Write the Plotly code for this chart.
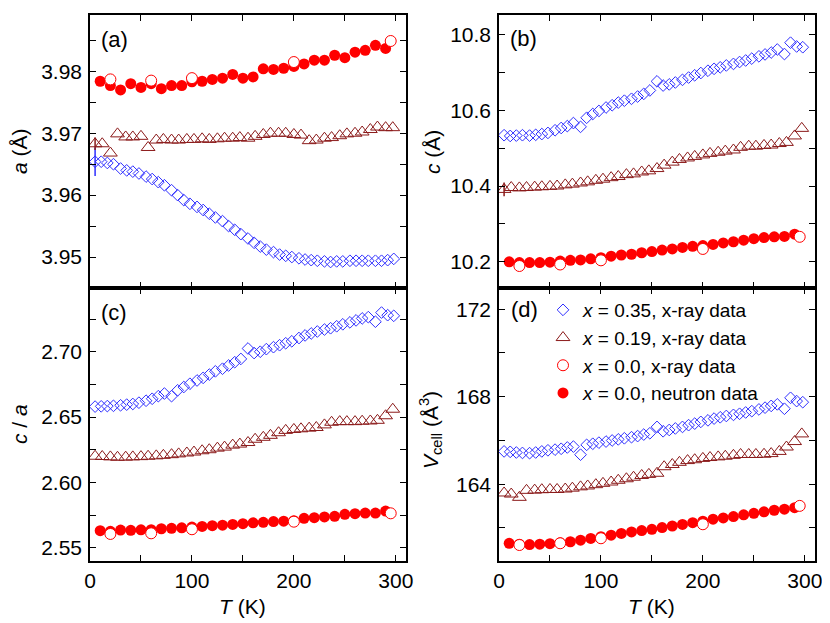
import plotly.graph_objects as go
from plotly.subplots import make_subplots

# ==========================
# DATA
# ==========================

# x = 0.35, x-ray (open diamonds)
T_035 = [5, 11, 17, 23, 30, 36, 42, 48, 55, 61, 67, 73, 80, 86, 92, 98,
         105, 111, 117, 123, 130, 136, 142, 148, 155, 161, 167, 173, 180, 186, 192, 198,
         205, 211, 217, 223, 230, 236, 242, 248, 255, 261, 267, 273, 280, 286, 292, 298]
a_035 = [3.9654, 3.9654, 3.9652, 3.9650, 3.9643, 3.9640, 3.9638, 3.9635, 3.9630, 3.9626, 3.9621, 3.9616,
         3.9608, 3.9600, 3.9592, 3.9586, 3.9581, 3.9576, 3.9570, 3.9564, 3.9558, 3.9550, 3.9544, 3.9537,
         3.9530, 3.9523, 3.9517, 3.9512, 3.9508, 3.9504, 3.9502, 3.9500, 3.9498, 3.9496, 3.9495, 3.9494,
         3.9493, 3.9492, 3.9493, 3.9493, 3.9494, 3.9494, 3.9494, 3.9494, 3.9494, 3.9494, 3.9495, 3.9497]
c_035 = [10.534, 10.532, 10.533, 10.534, 10.533, 10.535, 10.537, 10.540, 10.547, 10.553, 10.558, 10.566,
         10.556, 10.580, 10.590, 10.598, 10.607, 10.613, 10.620, 10.625, 10.630, 10.636, 10.643, 10.652,
         10.676, 10.665, 10.668, 10.673, 10.680, 10.686, 10.692, 10.698, 10.704, 10.709, 10.713, 10.718,
         10.722, 10.727, 10.731, 10.736, 10.742, 10.747, 10.752, 10.760, 10.748, 10.778, 10.768, 10.766]
ca_035 = [2.6580, 2.6582, 2.6584, 2.6586, 2.6590, 2.6595, 2.6600, 2.6610, 2.6625, 2.6640, 2.6660, 2.6680,
          2.6660, 2.6705, 2.6730, 2.6755, 2.6780, 2.6800, 2.6825, 2.6850, 2.6870, 2.6895, 2.6920, 2.6945,
          2.7025, 2.6990, 2.7000, 2.7020, 2.7035, 2.7050, 2.7065, 2.7080, 2.7105, 2.7125, 2.7140, 2.7155,
          2.7170, 2.7180, 2.7195, 2.7210, 2.7225, 2.7240, 2.7255, 2.7265, 2.7230, 2.7300, 2.7280, 2.7275]
v_035 = [165.50, 165.48, 165.45, 165.43, 165.42, 165.45, 165.50, 165.55, 165.58, 165.62, 165.68, 165.72,
         165.35, 165.80, 165.85, 165.90, 165.95, 166.00, 166.05, 166.10, 166.15, 166.20, 166.27, 166.33,
         166.62, 166.42, 166.48, 166.55, 166.62, 166.70, 166.77, 166.85, 166.92, 167.00, 167.06, 167.12,
         167.17, 167.22, 167.28, 167.34, 167.42, 167.50, 167.58, 167.65, 167.45, 167.95, 167.80, 167.75]
a_035_err = [0.0023] + [0] * 47

# x = 0.19, x-ray (open triangles)
T_019 = [5, 12, 20, 27, 35, 42, 50, 57, 65, 72, 80, 87, 95, 102, 110, 117, 125, 132, 140, 147,
         155, 162, 170, 177, 185, 192, 200, 207, 215, 222, 230, 237, 245, 252, 260, 267, 275, 282, 290, 297]
a_019 = [3.9683, 3.9683, 3.9668, 3.9699, 3.9694, 3.9694, 3.9695, 3.9677, 3.9689, 3.9690,
         3.9689, 3.9689, 3.9690, 3.9690, 3.9691, 3.9690, 3.9691, 3.9692, 3.9692, 3.9693,
         3.9692, 3.9695, 3.9698, 3.9700, 3.9700, 3.9700, 3.9698, 3.9697, 3.9688, 3.9689,
         3.9692, 3.9693, 3.9696, 3.9699, 3.9700, 3.9702, 3.9706, 3.9710, 3.9709, 3.9709]
c_019 = [10.391, 10.396, 10.395, 10.396, 10.397, 10.398, 10.399, 10.400, 10.403, 10.405,
         10.408, 10.411, 10.415, 10.418, 10.422, 10.425, 10.430, 10.432, 10.437, 10.440,
         10.446, 10.455, 10.463, 10.470, 10.474, 10.478, 10.482, 10.486, 10.489, 10.492,
         10.495, 10.502, 10.505, 10.505, 10.507, 10.508, 10.512, 10.515, 10.532, 10.552]
ca_019 = [2.6200, 2.6198, 2.6195, 2.6192, 2.6193, 2.6195, 2.6197, 2.6200, 2.6203, 2.6207,
          2.6212, 2.6218, 2.6225, 2.6232, 2.6242, 2.6250, 2.6262, 2.6270, 2.6285, 2.6293,
          2.6305, 2.6330, 2.6345, 2.6360, 2.6380, 2.6398, 2.6405, 2.6410, 2.6415, 2.6420,
          2.6440, 2.6460, 2.6465, 2.6465, 2.6465, 2.6468, 2.6470, 2.6475, 2.6510, 2.6560]
v_019 = [163.60, 163.55, 163.40, 163.72, 163.73, 163.75, 163.76, 163.76, 163.78, 163.82,
         163.88, 163.92, 163.98, 164.04, 164.10, 164.18, 164.25, 164.32, 164.40, 164.45,
         164.50, 164.80, 164.90, 165.00, 165.08, 165.12, 165.18, 165.22, 165.25, 165.28,
         165.32, 165.36, 165.36, 165.36, 165.37, 165.40, 165.50, 165.70, 165.95, 166.30]
a_019_err = [0.0010] + [0] * 39
c_019_err = [0.018] + [0] * 39

# x = 0.0, neutron (filled circles)
T_n = [10, 20, 30, 40, 50, 60, 70, 80, 90, 100, 110, 120, 130, 140, 150,
       160, 170, 180, 190, 200, 210, 220, 230, 240, 250, 260, 270, 280, 290]
a_n = [3.9784, 3.9777, 3.9770, 3.9780, 3.9774, 3.9780, 3.9772, 3.9777, 3.9777, 3.9783,
       3.9784, 3.9787, 3.9789, 3.9795, 3.9789, 3.9791, 3.9804, 3.9803, 3.9805, 3.9808,
       3.9812, 3.9818, 3.9818, 3.9826, 3.9822, 3.9831, 3.9834, 3.9842, 3.9837]
c_n = [10.200, 10.198, 10.198, 10.198, 10.199, 10.202, 10.204, 10.205, 10.208, 10.211,
       10.215, 10.218, 10.220, 10.224, 10.227, 10.231, 10.234, 10.238, 10.241, 10.243,
       10.246, 10.250, 10.253, 10.257, 10.261, 10.264, 10.266, 10.267, 10.273]
ca_n = [2.5630, 2.5625, 2.5635, 2.5633, 2.5637, 2.5638, 2.5645, 2.5648, 2.5652, 2.5658,
        2.5663, 2.5668, 2.5672, 2.5678, 2.5684, 2.5690, 2.5694, 2.5700, 2.5703, 2.5707,
        2.5725, 2.5730, 2.5735, 2.5740, 2.5755, 2.5760, 2.5765, 2.5765, 2.5780]
v_n = [161.30, 161.26, 161.24, 161.26, 161.28, 161.32, 161.37, 161.44, 161.52, 161.60,
       161.67, 161.75, 161.82, 161.88, 161.94, 162.02, 162.09, 162.16, 162.24, 162.31,
       162.40, 162.46, 162.52, 162.60, 162.67, 162.74, 162.81, 162.86, 162.93]

# x = 0.0, x-ray (open circles)
T_x0 = [20, 60, 100, 200, 295]
a_x0 = [3.9787, 3.9785, 3.9789, 3.9815, 3.9849]
c_x0 = [10.189, 10.193, 10.204, 10.234, 10.266]
ca_x0 = [2.5605, 2.5610, 2.5641, 2.5699, 2.5763]
v_x0 = [161.22, 161.30, 161.53, 162.17, 163.01]

# ==========================
# STYLE
# ==========================

OFF = 8                      # page body margin in the browser
W, H = 830 - OFF, 623 - OFF
FONT = "Arial, Liberation Sans, sans-serif"
BLUE = "#2f2fff"
DRED = "#8b1a1a"
RED = "#ff0000"

fig = make_subplots(rows=2, cols=2, horizontal_spacing=0.1, vertical_spacing=0)


def px_x(p):
    return (p - OFF) / W


def px_y(p):
    return 1 - (p - OFF) / H


panels = [
    # row, col, y arrays, y range, dtick, minor dtick, format, errs
    (1, 1, a_035, a_019, a_n, a_x0, [3.9450, 3.9891], 0.01, 0.005, ".2f", a_035_err, a_019_err),
    (1, 2, c_035, c_019, c_n, c_x0, [10.131, 10.851], 0.2, 0.1, ".1f", None, c_019_err),
    (2, 1, ca_035, ca_019, ca_n, ca_x0, [2.5398, 2.7488], 0.05, 0.025, ".2f", None, None),
    (2, 2, v_035, v_019, v_n, v_x0, [160.49, 172.97], 4, 2, "d", None, None),
]

for r, c, y35, y19, yn, yx0, yr, dt, mdt, fmt, e35, e19 in panels:
    show = (r == 2 and c == 2)

    err35 = dict(type="data", array=e35, visible=True, width=0, thickness=1.5, color=BLUE) if e35 else None
    err19 = dict(type="data", array=e19, visible=True, width=0, thickness=1.5, color=DRED) if e19 else None

    fig.add_trace(go.Scatter(
        x=T_035, y=y35, mode="markers", name="<i>x</i> = 0.35, x-ray data",
        marker=dict(symbol="diamond-open", size=9, color=BLUE, line=dict(width=1, color=BLUE)),
        error_y=err35, showlegend=show, legendrank=1), row=r, col=c)

    fig.add_trace(go.Scatter(
        x=T_019, y=y19, mode="markers", name="<i>x</i> = 0.19, x-ray data",
        marker=dict(symbol="triangle-up-open", size=12, color=DRED, line=dict(width=1, color=DRED)),
        error_y=err19, showlegend=show, legendrank=2), row=r, col=c)

    fig.add_trace(go.Scatter(
        x=T_n, y=yn, mode="markers", name="<i>x</i> = 0.0, neutron data",
        marker=dict(symbol="circle", size=11, color=RED, line=dict(width=0)),
        showlegend=show, legendrank=4), row=r, col=c)

    fig.add_trace(go.Scatter(
        x=T_x0, y=yx0, mode="markers", name="<i>x</i> = 0.0, x-ray data",
        marker=dict(symbol="circle", size=11, color="white", line=dict(width=1, color=RED)),
        showlegend=show, legendrank=3), row=r, col=c)

    fig.update_yaxes(
        range=yr, dtick=dt, tick0=0, tickformat=fmt,
        minor=dict(dtick=mdt, ticks="inside", ticklen=6, tickwidth=1.3, tickcolor="black"),
        row=r, col=c)

# ==========================
# AXES
# ==========================

xdom = {1: [px_x(90), px_x(406)], 2: [px_x(499), px_x(815)]}
ydom = {1: [px_y(288), px_y(15)], 2: [px_y(561), px_y(288)]}

for r in (1, 2):
    for c in (1, 2):
        fig.update_xaxes(
            domain=xdom[c], range=[0, 310], dtick=100, tick0=0,
            showticklabels=(r == 2),
            minor=dict(dtick=50, ticks="inside", ticklen=6, tickwidth=1.3, tickcolor="black"),
            row=r, col=c)
        fig.update_yaxes(domain=ydom[r], row=r, col=c)

common = dict(
    showline=True, linecolor="black", linewidth=1.5, mirror="allticks",
    ticks="inside", ticklen=6, tickwidth=1.3, tickcolor="black",
    showgrid=False, zeroline=False, automargin=False,
    tickfont=dict(family=FONT, size=21, color="black"),
)
fig.update_xaxes(**common, ticklabelstandoff=0)
fig.update_yaxes(**common, ticklabelstandoff=2)

# ==========================
# LABELS
# ==========================

labels = [
    ("(a)", 114, 39, 0, 22), ("(b)", 523, 38, 0, 22), ("(c)", 114, 312, 0, 22), ("(d)", 524, 310, 0, 22),
    ("<i>a</i> (Å)", 19, 151, -90, 21), ("<i>c</i> (Å)", 432, 152, -90, 21),
    ("<i>c</i> / <i>a</i>", 19, 424, -90, 21),
    ("<i>V</i><sub>cell</sub> (Å<sup>3</sup>)", 430, 430, -90, 21),
    ("<i>T</i> (K)", 242, 606, 0, 21), ("<i>T</i> (K)", 651, 606, 0, 21),
]
for txt, x, y, ang, fs in labels:
    fig.add_annotation(
        text=txt, x=px_x(x), y=px_y(y), xref="paper", yref="paper",
        xanchor="center", yanchor="middle", showarrow=False, textangle=ang,
        font=dict(family=FONT, size=fs, color="black"))

# ==========================
# FINAL DESIGN
# ==========================

fig.update_layout(
    width=W, height=H,
    autosize=False,
    plot_bgcolor="white",
    paper_bgcolor="white",
    margin=dict(l=0, r=0, t=0, b=0),
    font=dict(family=FONT, size=20, color="black"),
    legend=dict(
        x=px_x(543), y=px_y(291), xanchor="left", yanchor="top",
        bgcolor="rgba(0,0,0,0)", borderwidth=0,
        font=dict(family=FONT, size=19, color="black"),
        itemwidth=30, tracegroupgap=0,
    ),
)

fig.write_html("out.html")
